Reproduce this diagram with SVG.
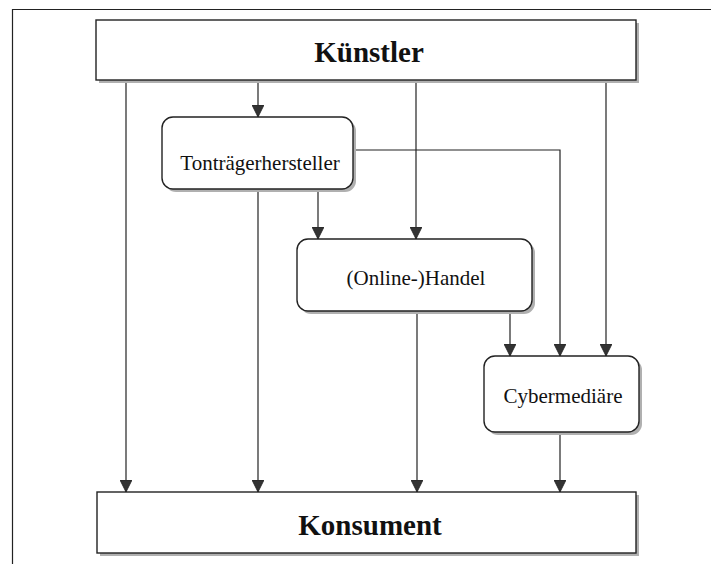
<svg xmlns="http://www.w3.org/2000/svg" width="711" height="564" viewBox="0 0 711 564">
<defs>
<marker id="ah" markerWidth="12" markerHeight="12" refX="12" refY="6" orient="auto" markerUnits="userSpaceOnUse" viewBox="0 0 12 12">
<path d="M0,0 L12,6 L0,12 Z" fill="#333" stroke="#222" stroke-width="0.8"/>
</marker>
</defs>
<style>
.box{fill:#fff;stroke:#222;stroke-width:1.4}
.sh{fill:#b0b0b0}
.ln{fill:none;stroke:#222;stroke-width:1.2}
.arr{fill:none;stroke:#222;stroke-width:1.2}
.big{font-family:"Liberation Serif",serif;font-weight:bold;font-size:29px;fill:#111;text-anchor:middle}
.sm{font-family:"Liberation Serif",serif;font-size:21px;fill:#111;text-anchor:middle}
</style>
<rect width="711" height="564" fill="#fff"/>
<path d="M12.5,564 L12.5,9.5 L711,9.5" class="ln"/>
<g id="connectors">
<line x1="126" y1="80" x2="126" y2="492" class="arr" marker-end="url(#ah)"/>
<line x1="258" y1="80" x2="258" y2="117" class="arr" marker-end="url(#ah)"/>
<line x1="416" y1="80" x2="416" y2="239" class="arr" marker-end="url(#ah)"/>
<line x1="606" y1="80" x2="606" y2="356" class="arr" marker-end="url(#ah)"/>
<polyline points="353,150 560,150 560,356" class="arr" marker-end="url(#ah)"/>
<line x1="258" y1="189" x2="258" y2="492" class="arr" marker-end="url(#ah)"/>
<line x1="318" y1="189" x2="318" y2="239" class="arr" marker-end="url(#ah)"/>
<line x1="417" y1="311" x2="417" y2="492" class="arr" marker-end="url(#ah)"/>
<line x1="510" y1="311" x2="510" y2="356" class="arr" marker-end="url(#ah)"/>
<line x1="560" y1="432" x2="560" y2="492" class="arr" marker-end="url(#ah)"/>
</g>
<g id="kuenstler">
<rect x="99" y="23" width="540" height="60" class="sh"/>
<rect x="96" y="20" width="540" height="60" class="box"/>
<text x="369" y="62" class="big">Künstler</text>
</g>
<g id="tontraeger">
<rect x="165" y="120" width="191" height="72" rx="11" class="sh"/>
<rect x="162" y="117" width="191" height="72" rx="11" class="box"/>
<text x="260" y="170" class="sm">Tonträgerhersteller</text>
</g>
<g id="handel">
<rect x="300" y="242" width="235" height="72" rx="11" class="sh"/>
<rect x="297" y="239" width="235" height="72" rx="11" class="box"/>
<text x="416" y="285" class="sm">(Online-)Handel</text>
</g>
<g id="cyber">
<rect x="487" y="359" width="155" height="76" rx="11" class="sh"/>
<rect x="484" y="356" width="155" height="76" rx="11" class="box"/>
<text x="563" y="403" class="sm">Cybermediäre</text>
</g>
<g id="konsument">
<rect x="100" y="495" width="539" height="61" class="sh"/>
<rect x="97" y="492" width="539" height="61" class="box"/>
<text x="370" y="535" class="big">Konsument</text>
</g>
</svg>
